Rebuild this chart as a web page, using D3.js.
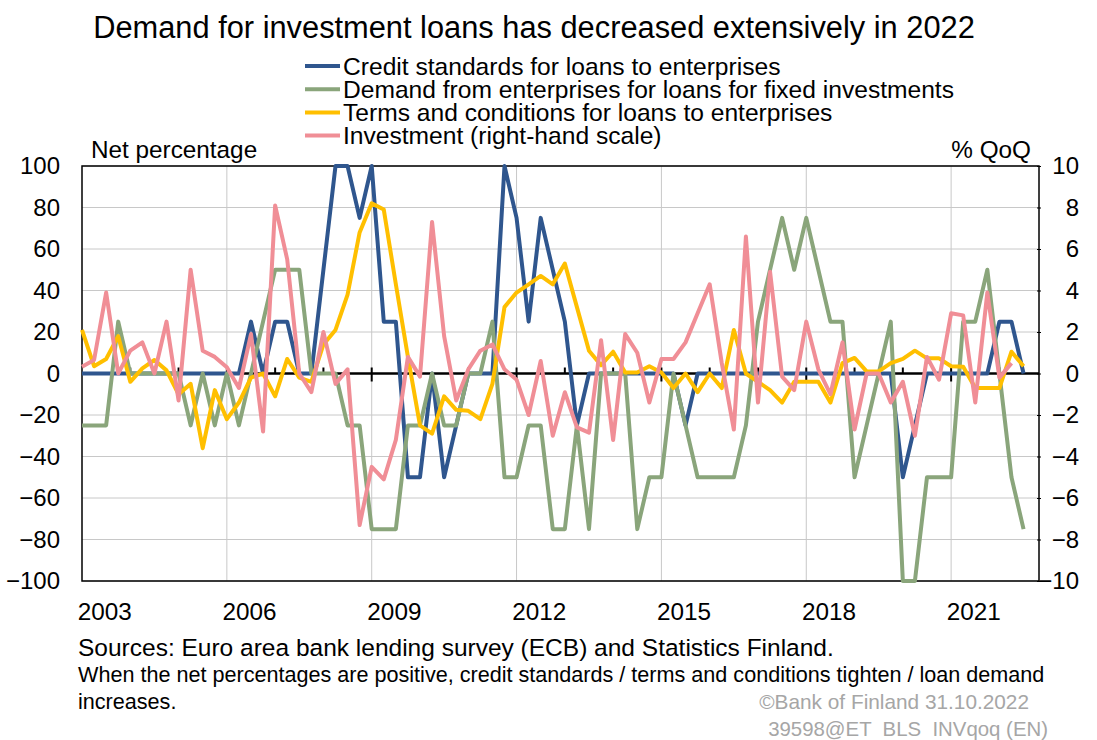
<!DOCTYPE html>
<html>
<head>
<meta charset="utf-8">
<title>Demand for investment loans</title>
<script src="https://cdn.jsdelivr.net/npm/d3@7"></script>
<style>
  body { margin: 0; background: #fff; }
  svg { display: block; font-family: "Liberation Sans", Arial, sans-serif; }
  .grid line { stroke: #c8c8c8; stroke-width: 1; }
  .series { fill: none; stroke-width: 4; stroke-linejoin: round; }
</style>
</head>
<body>
<svg id="chart" width="1097" height="740"></svg>
<script>
// quarterly, 2003Q1 onwards
const startYear = 2003;
const creditStandards = [
  0, 0, 0, 0, 0, 0, 0, 0, 0, 0, 0, 0, 0, 0, 25, 0, 25, 25, 0, 0,
  50, 100, 100, 75, 100, 25, 25, -50, -50, 0, -50, -25, 0, 0, 0, 100, 75, 25, 75, 50,
  25, -25, 0, 0, 0, 0, 0, 0, 0, 0, -25, 0, 0, 0, 0, 0, 0, 0, 0, 0,
  0, 0, 0, 0, 0, 0, 0, 0, -50, -25, 0, 0, 0, 0, 0, 0, 25, 25, 0
];
const demandFixedInv = [
  -25, -25, -25, 25, 0, 0, 0, 0, 0, -25, 0, -25, 0, -25, 0, 25, 50, 50, 50, 0,
  0, 0, -25, -25, -75, -75, -75, -25, -25, 0, -25, -25, 0, 0, 25, -50, -50, -25, -25, -75,
  -75, -25, -75, 0, 0, 0, -75, -50, -50, 0, -25, -50, -50, -50, -50, -25, 25, 50, 75, 50,
  75, 50, 25, 25, -50, -25, 0, 25, -100, -100, -50, -50, -50, 25, 25, 50, 0, -50, -75
];
const termsConditions = [
  21, 3.5, 7, 18, -4, 2.5, 6.5, 1.5, -10, -5, -36, -8, -22, -14, -2, 0, -11, 7, -2, -4,
  14, 21, 38, 68, 82, 79, 43, 8, -25, -29, -11, -17.5, -18, -22, -5, 32, 39, 43, 47, 43,
  53, 32, 11, 4, 10.5, 0.5, 0.5, 3.5, 0.5, -7, 0, -9, 0, -7, 21, 0, -4, -8, -14, -4,
  -4, -4, -14, 5, 7.5, 1, 1, 5, 7, 11, 7.3, 7.3, 3.5, 3.3, -7, -7, -7, 10.5, 3.5
];
const investmentQoQ = [
  0.33, 0.65, 3.9, 0, 1.1, 1.5, 0, 2.5, -1.3, 5.0, 1.1, 0.8, 0.3, -0.7, 1.9, -2.8, 8.1, 5.5, 0, -0.9,
  2.0, -0.5, 0.2, -7.3, -4.5, -5.1, -3.2, 0.8, -0.15, 7.3, 1.8, -1.3, 0.2, 1.1, 1.4, 0.2, -0.3, -2.0, 0.6, -3.0,
  -0.9, -2.6, -2.85, 1.6, -3.2, 1.9, 1.0, -1.4, 0.7, 0.7, 1.5, 2.9, 4.3, 0.5, -2.7, 6.6, -1.4, 4.9, -0.15, -0.8,
  2.5, 0.2, -1.0, 1.5, -2.7, 0, 0, -1.4, -0.4, -3.0, 0.8, -0.3, 2.9, 2.8, -1.4, 3.9, -0.2, 0.5
];
const seriesNames = [
  "Credit standards for loans to enterprises",
  "Demand from enterprises for loans for fixed investments",
  "Terms and conditions for loans to enterprises",
  "Investment (right-hand scale)"
];
const seriesColors = ["#2f568e", "#8aa57b", "#ffbf00", "#f08e96"];
const leftTicks = [-100, -80, -60, -40, -20, 0, 20, 40, 60, 80, 100];
const rightTicks = [-10, -8, -6, -4, -2, 0, 2, 4, 6, 8, 10];
const yearLabels = [2003, 2006, 2009, 2012, 2015, 2018, 2021];

const svg = d3.select("#chart");
const pLeft = 82, pRight = 1039, pTop = 166, pBottom = 581;

const x = d3.scaleLinear().domain([2003, 2022.82]).range([pLeft, pRight]);
const yL = d3.scaleLinear().domain([-100, 100]).range([pBottom, pTop]);
const yR = d3.scaleLinear().domain([-10, 10]).range([pBottom, pTop]);
const qt = i => startYear + i / 4;

// title
svg.append("text")
  .attr("x", 534).attr("y", 38)
  .attr("text-anchor", "middle")
  .style("font-size", "30.8px")
  .text("Demand for investment loans has decreased extensively in 2022");

// legend
const legend = svg.append("g");
seriesNames.forEach((name, k) => {
  const ly = 66 + k * 23.2;
  legend.append("line")
    .attr("x1", 305).attr("x2", 340).attr("y1", ly).attr("y2", ly)
    .attr("stroke", seriesColors[k]).attr("stroke-width", 4);
  legend.append("text")
    .attr("x", 343).attr("y", ly + 8.5)
    .style("font-size", "24.6px")
    .text(name);
});

svg.append("text").attr("x", 91).attr("y", 158).style("font-size", "24.3px").text("Net percentage");
svg.append("text").attr("x", 1031).attr("y", 158).attr("text-anchor", "end").style("font-size", "24.3px").text("% QoQ");

// grid
const grid = svg.append("g").attr("class", "grid");
grid.selectAll("line.h").data(leftTicks).enter().append("line")
  .attr("x1", pLeft).attr("x2", pRight)
  .attr("y1", d => yL(d)).attr("y2", d => yL(d));
grid.selectAll("line.v").data(yearLabels.slice(1)).enter().append("line")
  .attr("x1", d => x(d)).attr("x2", d => x(d))
  .attr("y1", pTop).attr("y2", pBottom);

// frame
svg.append("rect")
  .attr("x", pLeft).attr("y", pTop).attr("width", pRight - pLeft).attr("height", pBottom - pTop)
  .attr("fill", "none").attr("stroke", "#000").attr("stroke-width", 1.5);

// left axis
const axL = svg.append("g").attr("transform", `translate(${pLeft},0)`)
  .call(d3.axisLeft(yL).tickValues(leftTicks).tickSize(0).tickPadding(22));
axL.select(".domain").remove();
axL.selectAll("text").style("font-size", "24px").attr("font-family", null).attr("fill", "#000");

// right axis
const axR = svg.append("g").attr("transform", `translate(${pRight},0)`)
  .call(d3.axisRight(yR).tickValues(rightTicks).tickSize(4).tickPadding(36));
axR.select(".domain").remove();
axR.selectAll("line").attr("transform", "translate(-2,0)").attr("stroke", "#000");
axR.selectAll("text").style("font-size", "24px").attr("text-anchor", "end").attr("font-family", null).attr("fill", "#000");

// zero line with year ticks
const zeroY = yL(0);
svg.append("line")
  .attr("x1", pLeft).attr("x2", pRight).attr("y1", zeroY).attr("y2", zeroY)
  .attr("stroke", "#000").attr("stroke-width", 2.5);
const years = d3.range(2004, 2023);
svg.append("g").selectAll("line").data(years).enter().append("line")
  .attr("x1", d => x(d)).attr("x2", d => x(d))
  .attr("y1", d => zeroY - 6)
  .attr("y2", d => (d - 2003) % 3 === 0 ? zeroY + 8 : zeroY)
  .attr("stroke", "#000").attr("stroke-width", 2);

// x labels
svg.append("g").selectAll("text").data(yearLabels).enter().append("text")
  .attr("x", d => x(d + 0.47)).attr("y", 620)
  .attr("text-anchor", "middle")
  .style("font-size", "24.3px")
  .text(d => d);

// series
const lineL = d3.line().x((d, i) => x(qt(i))).y(d => yL(d));
const lineR = d3.line().x((d, i) => x(qt(i))).y(d => yR(d));
const plot = svg.append("g");
[creditStandards, demandFixedInv, termsConditions].forEach((s, k) => {
  plot.append("path").attr("class", "series").attr("d", lineL(s)).attr("stroke", seriesColors[k]);
});
plot.append("path").attr("class", "series").attr("d", lineR(investmentQoQ)).attr("stroke", seriesColors[3]);

// footer
svg.append("text").attr("x", 78).attr("y", 656).style("font-size", "24.5px")
  .text("Sources: Euro area bank lending survey (ECB) and Statistics Finland.");
svg.append("text").attr("x", 78).attr("y", 682).style("font-size", "21.6px")
  .text("When the net percentages are positive, credit standards / terms and conditions tighten / loan demand");
svg.append("text").attr("x", 78).attr("y", 709).style("font-size", "21.6px").text("increases.");
svg.append("text").attr("x", 1029).attr("y", 709).attr("text-anchor", "end")
  .style("font-size", "20.8px").attr("fill", "#a6a6a6").text("©Bank of Finland 31.10.2022");
svg.append("text").attr("x", 1048).attr("y", 736).attr("text-anchor", "end")
  .style("font-size", "20.4px").style("white-space", "pre").attr("fill", "#a6a6a6")
  .text("39598@ET  BLS  INVqoq (EN)");
</script>
</body>
</html>
